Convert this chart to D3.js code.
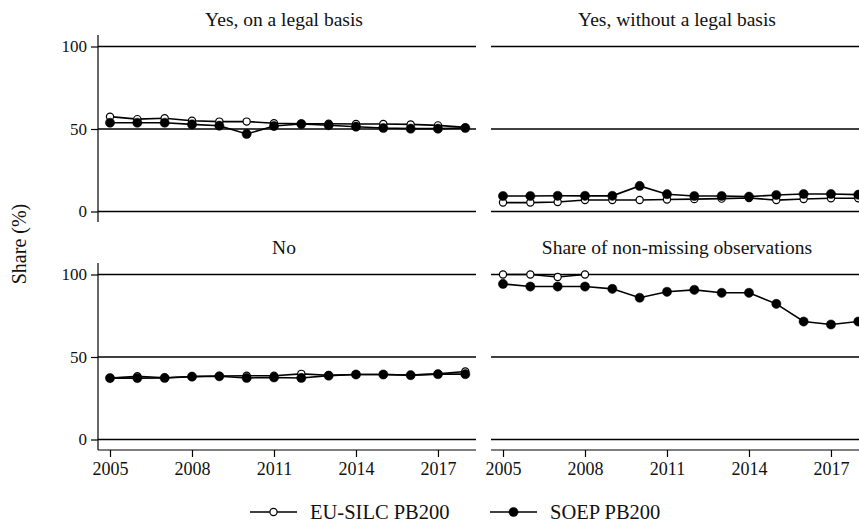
<!DOCTYPE html>
<html>
<head>
<meta charset="utf-8">
<script src="https://cdn.jsdelivr.net/npm/d3@7"></script>
<style>
html,body{margin:0;padding:0;background:#fff;}
svg text{font-family:"Liberation Serif","Times New Roman","DejaVu Serif",serif;}
</style>
</head>
<body>
<svg id="chart" width="859" height="524"></svg>
<script>
const years = [2005,2006,2007,2008,2009,2010,2011,2012,2013,2014,2015,2016,2017,2018];
const panelTitles = ["Yes, on a legal basis","Yes, without a legal basis","No","Share of non-missing observations"];
const seriesNames = ["EU-SILC PB200","SOEP PB200"];
const xTicks = [2005,2008,2011,2014,2017];
const yTicks = [0,50,100];

// EU-SILC PB200 (hollow markers)
const silcLegal   = [57.5,56,56.5,55,54.5,54.5,53.5,53.2,53.2,53,53,52.8,52.2,51];
const silcNoLegal = [5.4,5.4,5.8,7,7,7,7.3,7.5,7.8,8.2,6.9,7.6,8,8];
const silcNo      = [37.2,38.3,37.4,38.2,38.5,38.6,38.6,39.8,38.9,39.4,39.4,39,39.8,41.2];
const silcShare   = [100,100,98.5,100,null,null,null,null,null,null,null,null,null,null];

// SOEP PB200 (filled markers)
const soepLegal   = [53.8,53.8,53.8,52.8,52,47,51.8,53,52.3,51.4,50.6,50.2,50.2,50.6];
const soepNoLegal = [9.4,9.4,9.5,9.5,9.5,15.5,10.5,9.4,9.4,9,10,10.6,10.6,10.2];
const soepNo      = [37.2,37.2,37.3,38.1,38.3,37.3,37.6,37.3,38.7,39.4,39.4,39,39.6,39.6];
const soepShare   = [94.3,92.7,92.7,92.7,91.3,85.9,89.5,90.7,88.9,88.9,82.2,71.5,69.7,71.5];

const panelData = [
  [silcLegal, soepLegal],
  [silcNoLegal, soepNoLegal],
  [silcNo, soepNo],
  [silcShare, soepShare]
];

const FONT = '"Liberation Serif","Times New Roman","DejaVu Serif",serif';
const svg = d3.select("#chart");

// panel geometry
const pw = 378, ph = 187;
const panelX = [98, 491];
const panelY = [35, 263];

const x = d3.scaleLinear().domain([2005, 2018]).range([12, 367.3]);
const y = d3.scaleLinear().domain([0, 100]).range([176.5, 11.5]);

const line = d3.line()
  .defined(d => d.v != null)
  .x(d => x(d.year))
  .y(d => y(d.v));

panelData.forEach((series, i) => {
  const col = i % 2, row = Math.floor(i / 2);
  const g = svg.append("g").attr("transform", `translate(${panelX[col]},${panelY[row]})`);

  // gridlines
  g.selectAll("line.grid").data(yTicks).enter().append("line")
    .attr("x1", 0).attr("x2", pw)
    .attr("y1", d => y(d)).attr("y2", d => y(d))
    .attr("stroke", "#000").attr("stroke-width", 1.4);

  // title
  svg.append("text")
    .attr("x", panelX[col] + pw / 2 - 3)
    .attr("y", panelY[row] - 9)
    .attr("text-anchor", "middle")
    .attr("font-size", 19.5)
    .attr("font-family", FONT)
    .attr("fill", "#111")
    .text(panelTitles[i]);

  if (col === 0) {
    const ya = d3.axisLeft(y).tickValues(yTicks).tickSize(7).tickPadding(4);
    const ag = g.append("g").call(ya).attr("font-family", FONT);
    ag.select(".domain").attr("d", `M0,0V${ph}`).attr("stroke-width", 1.2);
    ag.selectAll(".tick line").attr("stroke-width", 1.2);
    ag.selectAll("text").attr("font-size", 17).attr("font-family", FONT).attr("fill", "#111");
  }
  if (row === 1) {
    const xa = d3.axisBottom(x).tickValues(xTicks).tickFormat(d3.format("d")).tickSize(7).tickPadding(5);
    const ag = g.append("g").attr("transform", `translate(0,${ph})`).call(xa).attr("font-family", FONT);
    ag.select(".domain").attr("d", `M0,0H${pw}`).attr("stroke-width", 1.2);
    ag.selectAll(".tick line").attr("stroke-width", 1.2);
    ag.selectAll("text").attr("font-size", 18).attr("font-family", FONT).attr("fill", "#111");
  }

  series.forEach((vals, s) => {
    const pts = years.map((yr, k) => ({year: yr, v: vals[k]}));
    g.append("path").datum(pts)
      .attr("d", line)
      .attr("fill", "none")
      .attr("stroke", "#000")
      .attr("stroke-width", 1.6);
    g.selectAll(null).data(pts.filter(d => d.v != null)).enter().append("circle")
      .attr("cx", d => x(d.year))
      .attr("cy", d => y(d.v))
      .attr("r", s === 0 ? 3.6 : 4.6)
      .attr("fill", s === 0 ? "#fff" : "#000")
      .attr("stroke", "#000")
      .attr("stroke-width", s === 0 ? 1.2 : 0.5);
  });
});

// y axis title
svg.append("text")
  .attr("transform", "translate(26,244) rotate(-90)")
  .attr("text-anchor", "middle")
  .attr("font-size", 20)
  .attr("font-family", FONT)
  .attr("fill", "#111")
  .text("Share (%)");

// legend
const legX = [250, 490];
seriesNames.forEach((name, s) => {
  const lg = svg.append("g").attr("transform", `translate(${legX[s]},512)`);
  lg.append("line").attr("x1", 0).attr("x2", 47).attr("y1", 0).attr("y2", 0)
    .attr("stroke", "#000").attr("stroke-width", 1.6);
  lg.append("circle").attr("cx", 23.5).attr("cy", 0)
    .attr("r", s === 0 ? 3.6 : 4.6)
    .attr("fill", s === 0 ? "#fff" : "#000")
    .attr("stroke", "#000").attr("stroke-width", s === 0 ? 1.2 : 0.5);
  lg.append("text").attr("x", 60).attr("y", 7)
    .attr("font-size", 20.5).attr("font-family", FONT).attr("fill", "#111")
    .text(name);
});
</script>
</body>
</html>
